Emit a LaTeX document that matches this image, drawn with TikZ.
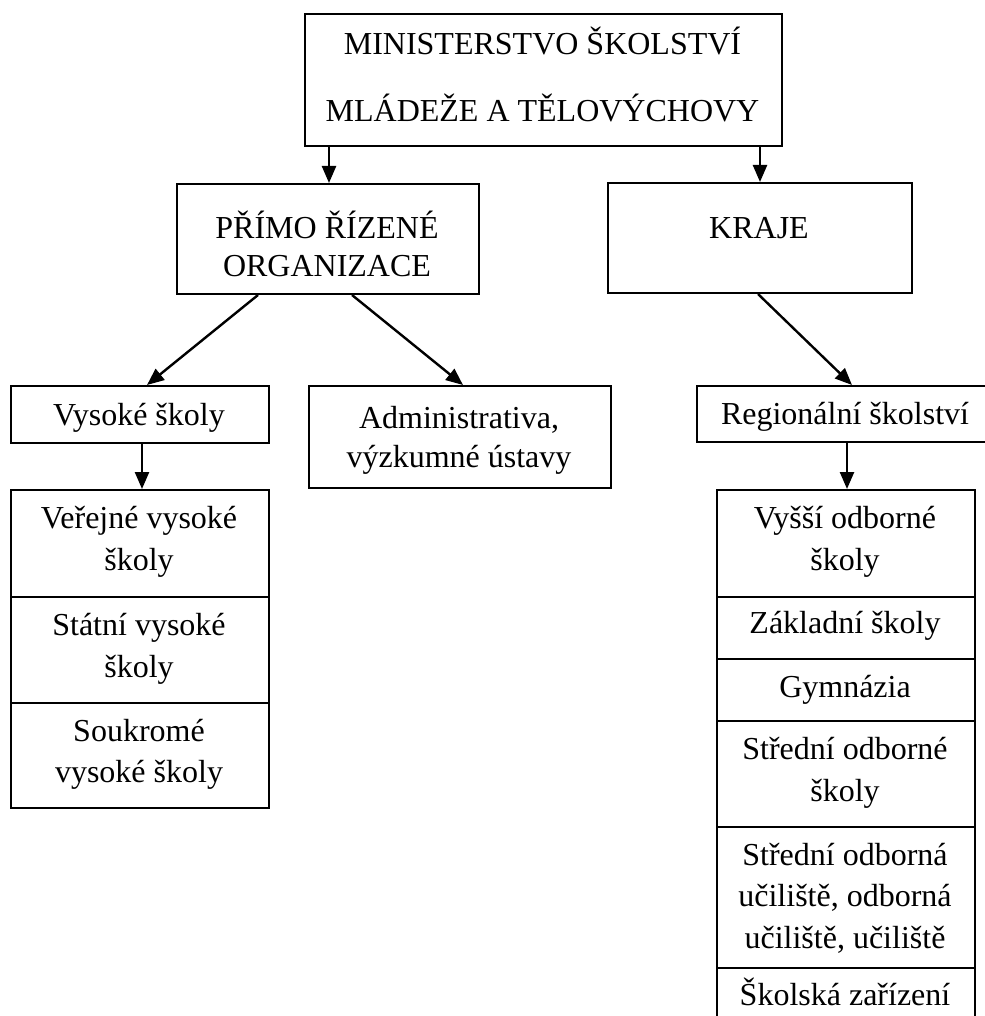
\documentclass[tikz,border=0pt]{standalone}
\usepackage{fontspec}
\setmainfont{Liberation Serif}
\usetikzlibrary{arrows.meta}
\begin{document}
\begin{tikzpicture}[x=1pt,y=-1pt,
  box/.style={draw=black,line width=2pt,fill=none},
  lbl/.style={anchor=base,inner sep=0pt,font=\fontsize{32}{40}\selectfont},
  arr/.style={draw=black,line width=2.4pt,-{Triangle[length=17pt,width=14pt]}}]
\useasboundingbox (0,0) rectangle (984,1016);
% boxes
\node[box,anchor=north west,minimum width=477pt,minimum height=132pt] (min) at (304,13) {};
\node[box,anchor=north west,minimum width=302pt,minimum height=110pt] (pr) at (176,183) {};
\node[box,anchor=north west,minimum width=304pt,minimum height=110pt] (kr) at (607,182) {};
\node[box,anchor=north west,minimum width=258pt,minimum height=57pt] (vs) at (10,385) {};
\node[box,anchor=north west,minimum width=302pt,minimum height=102pt] (adm) at (308,385) {};
\node[box,anchor=north west,minimum width=310pt,minimum height=56pt] (reg) at (696,385) {};
% left stack
\node[box,anchor=north west,minimum width=258pt,minimum height=107pt] (l1) at (10,489) {};
\node[box,anchor=north west,minimum width=258pt,minimum height=106pt] (l2) at (10,596) {};
\node[box,anchor=north west,minimum width=258pt,minimum height=105pt] (l3) at (10,702) {};
% right stack
\node[box,anchor=north west,minimum width=258pt,minimum height=107pt] (r1) at (716,489) {};
\node[box,anchor=north west,minimum width=258pt,minimum height=62pt] (r2) at (716,596) {};
\node[box,anchor=north west,minimum width=258pt,minimum height=62pt] (r3) at (716,658) {};
\node[box,anchor=north west,minimum width=258pt,minimum height=106pt] (r4) at (716,720) {};
\node[box,anchor=north west,minimum width=258pt,minimum height=141pt] (r5) at (716,826) {};
\node[box,anchor=north west,minimum width=258pt,minimum height=70pt] (r6) at (716,967) {};
% texts
\node[lbl] (tmin1) at (542.5,55) {MINISTERSTVO ŠKOLSTVÍ};
\node[lbl] (tmin2) at (542.5,122) {MLÁDEŽE A TĚLOVÝCHOVY};
\node[lbl] (tpr1) at (327,239) {PŘÍMO ŘÍZENÉ};
\node[lbl] (tpr2) at (327,276) {ORGANIZACE};
\node[lbl] (tkr) at (759,238) {KRAJE};
\node[lbl] (tvs) at (139,425) {Vysoké školy};
\node[lbl] (tadm1) at (459,428) {Administrativa,};
\node[lbl] (tadm2) at (459,467) {výzkumné ústavy};
\node[lbl] (treg) at (845,424) {Regionální školství};
\node[lbl] (tl11) at (139,528) {Veřejné vysoké};
\node[lbl] (tl12) at (139,570) {školy};
\node[lbl] (tl21) at (139,635) {Státní vysoké};
\node[lbl] (tl22) at (139,677) {školy};
\node[lbl] (tl31) at (139,741) {Soukromé};
\node[lbl] (tl32) at (139,782) {vysoké školy};
\node[lbl] (tr11) at (845,528) {Vyšší odborné};
\node[lbl] (tr12) at (845,570) {školy};
\node[lbl] (tr2) at (845,633) {Základní školy};
\node[lbl] (tr3) at (845,697) {Gymnázia};
\node[lbl] (tr41) at (845,759) {Střední odborné};
\node[lbl] (tr42) at (845,801) {školy};
\node[lbl] (tr51) at (845,865) {Střední odborná};
\node[lbl] (tr52) at (845,906) {učiliště, odborná};
\node[lbl] (tr53) at (845,948) {učiliště, učiliště};
\node[lbl] (tr6) at (845,1005) {Školská zařízení};
% arrows
\draw[arr] ([xshift=25pt]min.south west) -- ([xshift=153pt]pr.north west);
\draw[arr] ([xshift=456pt]min.south west) -- ([xshift=153pt]kr.north west);
\draw[arr] ([xshift=82pt]pr.south west) -- ([xshift=137pt]vs.north west);
\draw[arr] ([xshift=176pt]pr.south west) -- ([xshift=155pt]adm.north west);
\draw[arr] ([xshift=151pt]kr.south west) -- ([xshift=156pt]reg.north west);
\draw[arr] ([xshift=132pt]vs.south west) -- ([xshift=132pt]l1.north west);
\draw[arr] ([xshift=151pt]reg.south west) -- ([xshift=131pt]r1.north west);
\end{tikzpicture}
\end{document}
